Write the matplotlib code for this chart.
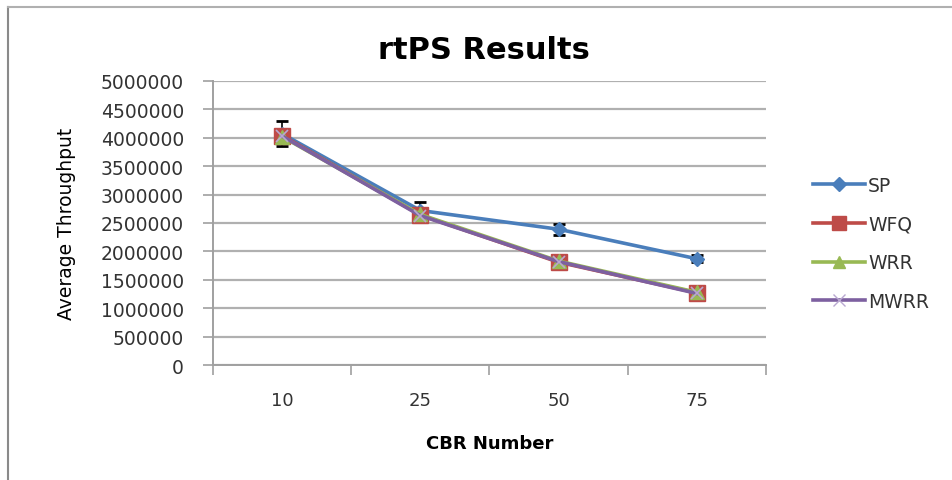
import matplotlib

matplotlib.use("Agg")
import matplotlib.pyplot as plt
from matplotlib.lines import Line2D

categories = ["10", "25", "50", "75"]
sp = [4070000, 2720000, 2390000, 1870000]
sp_err = [220000, 150000, 100000, 60000]
wfq = [4040000, 2640000, 1810000, 1270000]
wrr = [4020000, 2650000, 1830000, 1280000]
mwrr = [4030000, 2630000, 1820000, 1260000]
y_ticks = list(range(0, 5000001, 500000))

plt.rcParams["font.family"] = ["DejaVu Sans"]

fig = plt.figure(figsize=(9.53, 4.81), dpi=100)
ax = fig.add_axes([213 / 953, 1 - 366 / 481, (766 - 213) / 953, (366 - 82) / 481])

x = list(range(len(categories)))
lw = 2.6
ax.errorbar(x, sp, yerr=sp_err, color="#4a7ebb", lw=lw, marker="D", ms=7,
            ecolor="black", elinewidth=1.2, capsize=4, capthick=2, zorder=3,
            label="SP")
ax.plot(x, wfq, color="#be4b48", lw=lw, marker="s", ms=11, zorder=4, label="WFQ")
ax.plot(x, wrr, color="#98b954", lw=lw, marker="^", ms=10, zorder=5, label="WRR")
ax.plot(x, mwrr, color="#7d60a0", lw=lw, marker="x", ms=8, mew=1.2,
        markeredgecolor="#b9a8d0", zorder=6, label="MWRR")

ax.set_xlim(-0.5, len(categories) - 0.5)
ax.set_ylim(0, 5000000)
ax.set_yticks(y_ticks)
ax.set_yticklabels([str(v) for v in y_ticks])
ax.yaxis.grid(True, color="#b0b0b0", lw=1.6)
ax.set_axisbelow(True)

ax.set_xticks([i - 0.5 for i in range(len(categories) + 1)])
ax.set_xticklabels([])
ax.set_xticks(x, minor=True)
ax.set_xticklabels(categories, minor=True)
ax.tick_params(axis="x", which="major", length=7, color="#a0a0a0", width=1.2)
ax.tick_params(axis="x", which="minor", length=0, pad=19, labelsize=13,
               labelcolor="#333333")
ax.tick_params(axis="y", length=7, color="#a0a0a0", width=1.2, labelsize=13.5,
               labelcolor="#333333", pad=14)

for side in ("top", "right"):
    ax.spines[side].set_visible(False)
for side in ("left", "bottom"):
    ax.spines[side].set_color("#a0a0a0")
    ax.spines[side].set_linewidth(1.4)

ax.set_ylabel("Average Throughput", fontsize=13.5, labelpad=18)
ax.set_xlabel("CBR Number", fontsize=13, fontweight="bold", labelpad=18)
fig.text(0.508, 0.895, "rtPS Results", ha="center", va="center",
         fontsize=22, fontweight="bold")

handles = [
    Line2D([], [], color="#4a7ebb", lw=lw, marker="D", ms=7),
    Line2D([], [], color="#be4b48", lw=lw, marker="s", ms=10),
    Line2D([], [], color="#98b954", lw=lw, marker="^", ms=9),
    Line2D([], [], color="#7d60a0", lw=lw, marker="x", ms=8,
           markeredgecolor="#b9a8d0"),
]
fig.legend(handles, ["SP", "WFQ", "WRR", "MWRR"], loc="center left",
           bbox_to_anchor=(0.835, 0.492), frameon=False, fontsize=13.5,
           handlelength=2.8, handletextpad=0.15, labelspacing=1.05,
           labelcolor="#333333")

# chart frame (top and left edges visible)
fig.add_artist(Line2D([8 / 953, 8 / 953], [0, 1 - 8 / 481],
                      transform=fig.transFigure, color="#8a8a8a", lw=1.5))
fig.add_artist(Line2D([8 / 953, 1], [1 - 8 / 481, 1 - 8 / 481],
                      transform=fig.transFigure, color="#b0b0b0", lw=1.5))

fig.savefig("out.png", dpi=100)
